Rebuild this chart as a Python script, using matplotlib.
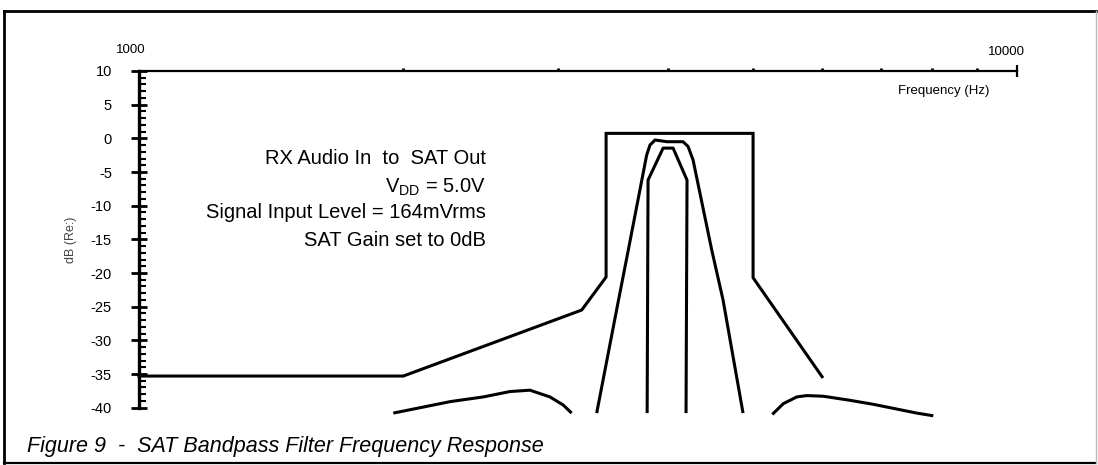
import matplotlib.pyplot as plt
from matplotlib.lines import Line2D
from matplotlib.ticker import FixedLocator, FixedFormatter, NullFormatter

plt.rcParams['font.family'] = ['Liberation Sans', 'DejaVu Sans']

W, H = 1098, 465

# spec mask (Hz, dB)
mask_freq = [1000, 2000, 3193, 3404, 3404, 5005, 5005, 5998]
mask_db = [-35.3, -35.3, -25.5, -20.6, 0.74, 0.74, -20.7, -35.4]

# wide response curve
wide_freq = [3321, 3517, 3608, 3786, 3819, 3870, 3994, 4165, 4220, 4276, 4491, 4626, 4875]
wide_db = [-40.8, -24.0, -16.6, -2.5, -1.0, -0.25, -0.5, -0.5, -1.2, -3.2, -16.6, -24.0, -40.8]

# narrow response curve
narrow_freq = [3791, 3800, 3953, 4058, 4209, 4198]
narrow_db = [-40.8, -6.2, -1.45, -1.45, -6.2, -40.8]

# side lobes
lobe_lo_freq = [1948, 2072, 2261, 2467, 2646, 2788, 2938, 3042, 3110]
lobe_lo_db = [-40.8, -40.1, -39.1, -38.4, -37.6, -37.4, -38.4, -39.6, -40.8]
lobe_hi_freq = [5264, 5418, 5613, 5762, 6018, 6452, 6862, 7295, 7688, 8029]
lobe_hi_db = [-41.0, -39.4, -38.4, -38.2, -38.3, -38.9, -39.5, -40.2, -40.8, -41.2]

y_ticks = [-40, -35, -30, -25, -20, -15, -10, -5, 0, 5, 10]
y_labels = ['-40', '-35', '-30', '-25', '-20', '-15', '-10', '-5', '0', '5', '10']
x_minor = [2000, 3000, 4000, 5000, 6000, 7000, 8000, 9000]


def main():
    fig = plt.figure(figsize=(W / 100, H / 100), dpi=100)
    ax = fig.add_axes([139 / W, (H - 407.7) / H, 878 / W, (407.7 - 71) / H])
    ax.set_xscale('log')
    ax.set_xlim(1000, 10000)
    ax.set_ylim(-40, 10)

    for s in ['right', 'bottom']:
        ax.spines[s].set_visible(False)
    ax.spines['left'].set_linewidth(2.4)
    ax.spines['top'].set_linewidth(1.6)

    # y axis ticks
    ax.yaxis.set_major_locator(FixedLocator(y_ticks))
    ax.yaxis.set_major_formatter(FixedFormatter(y_labels))
    ax.yaxis.set_minor_locator(FixedLocator(range(-40, 11)))
    ax.tick_params(axis='y', which='major', direction='inout', length=12,
                   width=2, pad=13.5, labelsize=10.5)
    ax.tick_params(axis='y', which='minor', direction='in', length=5, width=1.5)

    # x axis ticks on top
    ax.xaxis.set_major_locator(FixedLocator([10000]))
    ax.xaxis.set_minor_locator(FixedLocator(x_minor))
    ax.xaxis.set_major_formatter(NullFormatter())
    ax.xaxis.set_minor_formatter(NullFormatter())
    ax.tick_params(axis='x', which='both', bottom=False, top=True,
                   labelbottom=False, labeltop=False)
    ax.tick_params(axis='x', which='major', direction='inout', length=9, width=1.6)
    ax.tick_params(axis='x', which='minor', direction='out', length=2.5, width=2)

    ax.annotate('1000', (1000, 10), xytext=(-8.5, 21), textcoords='offset pixels',
                ha='center', va='center', fontsize=9.5, annotation_clip=False)
    ax.annotate('10000', (10000, 10), xytext=(-11, 19), textcoords='offset pixels',
                ha='center', va='center', fontsize=9.5, annotation_clip=False)

    # curves
    ax.plot(mask_freq, mask_db, color='black', lw=2.2, clip_on=False,
            solid_joinstyle='miter')
    for f, d in [(wide_freq, wide_db), (narrow_freq, narrow_db),
                 (lobe_lo_freq, lobe_lo_db), (lobe_hi_freq, lobe_hi_db)]:
        ax.plot(f, d, color='black', lw=2.2, clip_on=False,
                solid_joinstyle='round', solid_capstyle='butt')

    # text
    fig.text(989 / W, 1 - 91 / H, 'Frequency (Hz)', ha='right', va='center', fontsize=9.5)
    fig.text(71 / W, 1 - 240 / H, 'dB (Re:)', rotation=90, ha='center', va='center',
             fontsize=9, color='#444444')
    rx = 486 / W
    fs = 14.5
    fig.text(rx, 1 - 158 / H, 'RX Audio In  to  SAT Out', ha='right', va='center', fontsize=fs)
    fig.text(rx, 1 - 187 / H, r'$\mathregular{V_{DD}}$ = 5.0V', ha='right', va='center',
             fontsize=fs)
    fig.text(rx, 1 - 213 / H, 'Signal Input Level = 164mVrms', ha='right', va='center',
             fontsize=fs)
    fig.text(rx, 1 - 240 / H, 'SAT Gain set to 0dB', ha='right', va='center', fontsize=fs)
    fig.text(27 / W, 1 - 446 / H, 'Figure 9  -  SAT Bandpass Filter Frequency Response',
             ha='left', va='center', fontsize=15.5, style='italic')

    # frame around the figure
    x0, x1 = 4 / W, 1096 / W
    y0, y1 = 1 - 463 / H, 1 - 11 / H
    fig.add_artist(Line2D([x0, x1], [y1, y1], color='black', lw=2))
    fig.add_artist(Line2D([x0, x0], [y0, y1], color='black', lw=2))
    fig.add_artist(Line2D([x0, x1], [y0, y0], color='black', lw=1.6))
    fig.add_artist(Line2D([x1, x1], [y0, y1], color='#bbbbbb', lw=1))

    fig.savefig('out.png', dpi=100)


if __name__ == "__main__":
    main()
